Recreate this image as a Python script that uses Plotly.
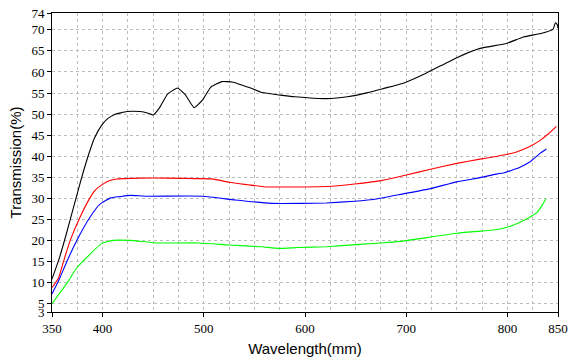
import plotly.graph_objects as go

# ---- data ----
black_x = [350, 357, 364, 371, 378, 385, 392, 399, 405, 412, 424, 437, 445, 450, 456, 464, 474,
           482, 490.5, 498.6, 507, 518, 528, 535, 545, 557.5, 575.5, 590, 613, 626, 642, 662, 678,
           698, 718, 731, 750, 773, 798, 816, 834, 845, 847.5, 849.3, 850]
black_y = [10.8, 15.6, 21.4, 27.6, 33.8, 39.5, 44.3, 47.3, 48.9, 49.9, 50.6, 50.6, 50.2, 49.8, 51.4,
           54.7, 56.2, 54.5, 51.5, 53.3, 56.4, 57.7, 57.6, 57.1, 56.3, 55.1, 54.5, 54.1, 53.7, 53.7,
           54.1, 55.1, 56.1, 57.4, 59.5, 61.1, 63.4, 65.6, 66.7, 68.3, 69.2, 70.1, 71.7, 71.2, 70.4]

red_x = [350, 356.5, 361.4, 368, 377.7, 387.5, 393, 400, 407, 414, 437, 463, 508, 525, 544, 561,
         590, 621, 649, 675, 698, 724, 750, 773, 790, 799, 809, 822, 832, 840, 848.5]
red_y = [8.8, 11.1, 15.0, 20.0, 25.5, 30.1, 32.0, 33.3, 34.2, 34.6, 34.8, 34.8, 34.6, 33.8, 33.2,
         32.7, 32.7, 32.8, 33.4, 34.2, 35.4, 36.9, 38.3, 39.3, 40.0, 40.4, 41.0, 42.3, 43.7, 45.2, 47.1]

blue_x = [350, 356.5, 364.7, 374.5, 387.5, 397.4, 408, 417, 427, 443, 499, 531, 567, 597, 621, 649,
          672, 698, 724, 750, 773, 790, 796, 812, 822, 832, 838.6]
blue_y = [7.3, 10.4, 15.0, 20.0, 25.5, 28.6, 30.1, 30.4, 30.7, 30.5, 30.5, 29.6, 28.8, 28.8, 28.9,
          29.3, 29.9, 31.1, 32.3, 33.9, 34.9, 35.8, 36.0, 37.3, 38.6, 40.6, 41.7]

green_x = [350, 358, 366.3, 374.5, 387.5, 399, 410, 427, 453, 495, 525, 557, 574, 593, 621, 633,
           675, 698, 724, 750, 773, 790, 802, 814, 822, 829, 834, 838]
green_y = [5.0, 7.6, 10.4, 13.5, 16.7, 19.3, 20.0, 20.0, 19.4, 19.4, 18.9, 18.5, 18.1, 18.3, 18.5,
           18.7, 19.4, 19.9, 20.8, 21.7, 22.2, 22.6, 23.3, 24.5, 25.5, 26.6, 28.2, 29.9]

x_ticks = [350, 400, 500, 600, 700, 800, 850]
y_ticks = [3, 5, 10, 15, 20, 25, 30, 35, 40, 45, 50, 55, 60, 65, 70, 74]

series = [
    (black_x, black_y, "#000000"),
    (red_x, red_y, "#ff0000"),
    (blue_x, blue_y, "#0000ff"),
    (green_x, green_y, "#00ff00"),
]

fig = go.Figure()
for xs, ys, col in series:
    fig.add_trace(go.Scatter(x=xs, y=ys, mode="lines",
                             line=dict(color=col, width=1.1, shape="spline", smoothing=0.4),
                             showlegend=False, hoverinfo="skip"))

grid = dict(showgrid=True, gridcolor="#bdbdbd", griddash="dot", gridwidth=1)
tickfont = dict(family="'Liberation Serif', 'Times New Roman', 'DejaVu Serif', serif",
                size=13, color="#000000")
titlefont = dict(family="'Liberation Sans', Arial, sans-serif", size=15, color="#000000")

fig.update_layout(
    width=574, height=362,
    margin=dict(l=52, r=12, t=6, b=50),
    paper_bgcolor="#ffffff", plot_bgcolor="#ffffff",
    xaxis=dict(range=[350, 850], tickmode="array", tickvals=x_ticks,
               ticks="outside", ticklen=4, tickcolor="#000000",
               showline=True, linecolor="#000000", linewidth=1, mirror=True,
               zeroline=False, tickfont=tickfont, ticklabeloverflow="allow",
               title=dict(text="Wavelength(mm)", font=titlefont, standoff=8),
               minor=dict(tick0=350, dtick=25, showgrid=True, gridcolor="#bdbdbd",
                          griddash="dot", gridwidth=1, ticks=""),
               **grid),
    yaxis=dict(range=[3, 74], tickmode="array", tickvals=y_ticks,
               ticks="outside", ticklen=4, tickcolor="#000000",
               showline=True, linecolor="#000000", linewidth=1, mirror=True,
               zeroline=False, tickfont=tickfont, ticklabeloverflow="allow",
               title=dict(text="Transmission(%)", font=titlefont, standoff=6),
               **grid),
)

fig.write_html("out.html", config={"displayModeBar": False},
               post_script="document.body.style.margin='0';document.body.style.padding='0';"
                           "document.body.style.overflow='hidden';")
